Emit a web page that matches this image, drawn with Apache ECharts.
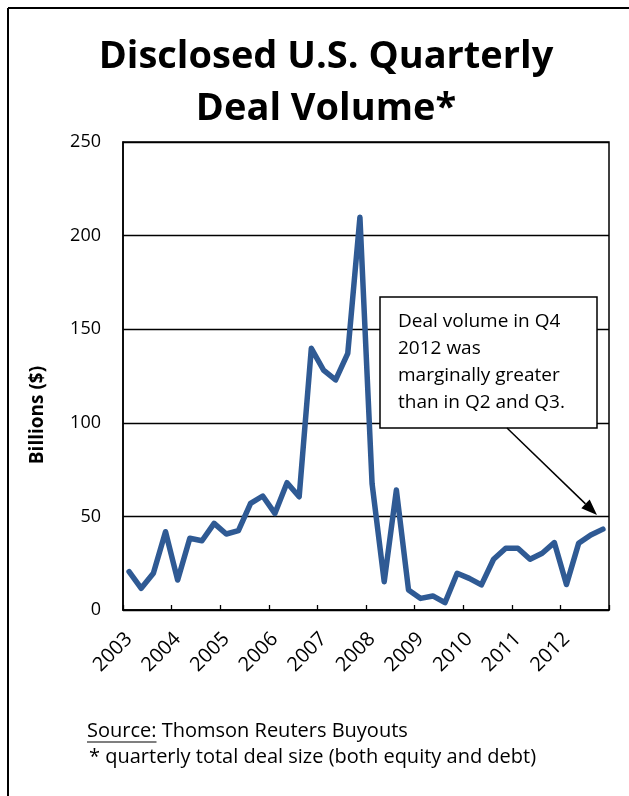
<!DOCTYPE html>
<html>
<head>
<meta charset="utf-8">
<script src="https://cdn.jsdelivr.net/npm/echarts@6/dist/echarts.min.js"></script>
<style>
html,body{margin:0;padding:0;background:#fff;}
#chart{width:629px;height:796px;}
</style>
</head>
<body>
<div id="chart"></div>
<script>
// ---- data ----
const years = ['2003','2004','2005','2006','2007','2008','2009','2010','2011','2012'];
const quarters = ['Q1','Q2','Q3','Q4'];
const categories = [];
years.forEach(y => quarters.forEach(q => categories.push(y + ' ' + q)));
const dealVolume = [
  20.5, 11.6, 19.6, 41.8,
  16.0, 38.3, 37.0, 46.3,
  40.6, 42.4, 57.0, 60.9,
  51.6, 68.0, 60.5, 139.8,
  128.2, 122.9, 137.1, 209.8,
  67.5, 15.1, 64.1, 10.7,
  6.2, 7.5, 3.9, 19.6,
  16.9, 13.4, 27.1, 33.0,
  33.0, 27.1, 30.3, 36.0,
  13.6, 35.6, 40.1, 43.2
];
const yTicks = [0, 50, 100, 150, 200, 250];
const titleText = 'Disclosed U.S. Quarterly\nDeal Volume*';
const yName = 'Billions ($)';
const noteLines = ['Deal volume in Q4', '2012 was', 'marginally greater', 'than in Q2 and Q3.'];
const sourceLabel = 'Source:';
const sourceText = ' Thomson Reuters Buyouts';
const footnote = '* quarterly total deal size (both equity and debt)';

const FONT = '"Open Sans", "Noto Sans", sans-serif';
function textWidth(t, font) {
  const c = document.createElement('canvas').getContext('2d');
  c.font = font;
  return c.measureText(t).width;
}
const FOOT_FONT = '20px "Open Sans"';
const srcW = textWidth(sourceLabel, FOOT_FONT);

const chart = echarts.init(document.getElementById('chart'), null, {renderer: 'canvas'});

// arrow geometry
const arrowFrom = [507, 428], arrowTip = [597, 515];
const dx = arrowTip[0] - arrowFrom[0], dy = arrowTip[1] - arrowFrom[1];
const len = Math.sqrt(dx*dx + dy*dy);
const ux = dx/len, uy = dy/len, px = -uy, py = ux;
const headL = 16, headW = 6;
const bx = arrowTip[0] - headL*ux, by = arrowTip[1] - headL*uy;

chart.setOption({
  animation: false,
  backgroundColor: '#fff',
  title: {
    text: titleText,
    left: 321,
    top: 26,
    textAlign: 'center',
    textStyle: {fontFamily: FONT, fontSize: 38, fontWeight: 'bold', color: '#000', lineHeight: 52}
  },
  grid: {left: 123, top: 142, right: 20, bottom: 186, show: true, borderColor: '#000', borderWidth: 1.5, backgroundColor: 'transparent'},
  xAxis: {
    type: 'category',
    data: categories,
    boundaryGap: true,
    axisLine: {lineStyle: {color: '#000', width: 1.5}},
    axisTick: {show: true, inside: true, length: 5, interval: 3, lineStyle: {color: '#000', width: 1.3}},
    axisLabel: {
      interval: 3, rotate: 45, margin: 26,
      formatter: v => v.slice(0, 4),
      fontFamily: FONT, fontSize: 20, color: '#000'
    },
    splitLine: {show: false}
  },
  yAxis: {
    type: 'value',
    min: yTicks[0], max: yTicks[yTicks.length - 1], interval: 50,
    axisLine: {show: true, lineStyle: {color: '#000', width: 1.5}},
    axisTick: {show: false},
    axisLabel: {margin: 22, fontFamily: FONT, fontSize: 18, color: '#000'},
    splitLine: {show: true, lineStyle: {color: '#000', width: 1.3}}
  },
  series: [{
    type: 'line',
    data: dealVolume,
    symbol: 'none',
    smooth: false,
    lineStyle: {color: '#2F5A94', width: 5.5, cap: 'round', join: 'round'},
    z: 3
  }],
  graphic: [
    {type: 'line', shape: {x1: 8, y1: 8, x2: 629, y2: 8}, style: {stroke: '#000', lineWidth: 2}, z: 10},
    {type: 'line', shape: {x1: 8, y1: 8, x2: 8, y2: 796}, style: {stroke: '#000', lineWidth: 2}, z: 10},
    {type: 'text', x: 38, y: 415, rotation: Math.PI/2,
      style: {text: yName, font: 'bold 19px "Open Sans"', fill: '#000', textAlign: 'center', textVerticalAlign: 'middle'}, z: 10},
    {type: 'rect', shape: {x: 380, y: 297, width: 217, height: 131},
      style: {fill: '#fff', stroke: '#000', lineWidth: 1.5}, z: 20},
    {type: 'text', x: 398, y: 308,
      style: {text: noteLines.join('\n'), font: '19px "Open Sans"', lineHeight: 27, fill: '#000', textAlign: 'left', textVerticalAlign: 'top'}, z: 21},
    {type: 'line', shape: {x1: arrowFrom[0], y1: arrowFrom[1], x2: bx, y2: by}, style: {stroke: '#000', lineWidth: 1.5}, z: 20},
    {type: 'polygon', shape: {points: [arrowTip, [bx + headW*px, by + headW*py], [bx - headW*px, by - headW*py]]},
      style: {fill: '#000'}, z: 20},
    {type: 'text', x: 87, y: 731,
      style: {text: sourceLabel, font: FOOT_FONT, fill: '#000', textAlign: 'left', textVerticalAlign: 'middle'}, z: 10},
    {type: 'line', shape: {x1: 87, y1: 742, x2: 87 + srcW, y2: 742}, style: {stroke: '#000', lineWidth: 1.2}, z: 10},
    {type: 'text', x: 87 + srcW, y: 731,
      style: {text: sourceText, font: FOOT_FONT, fill: '#000', textAlign: 'left', textVerticalAlign: 'middle'}, z: 10},
    {type: 'text', x: 89, y: 757,
      style: {text: footnote, font: FOOT_FONT, fill: '#000', textAlign: 'left', textVerticalAlign: 'middle'}, z: 10}
  ]
});
</script>
</body>
</html>
